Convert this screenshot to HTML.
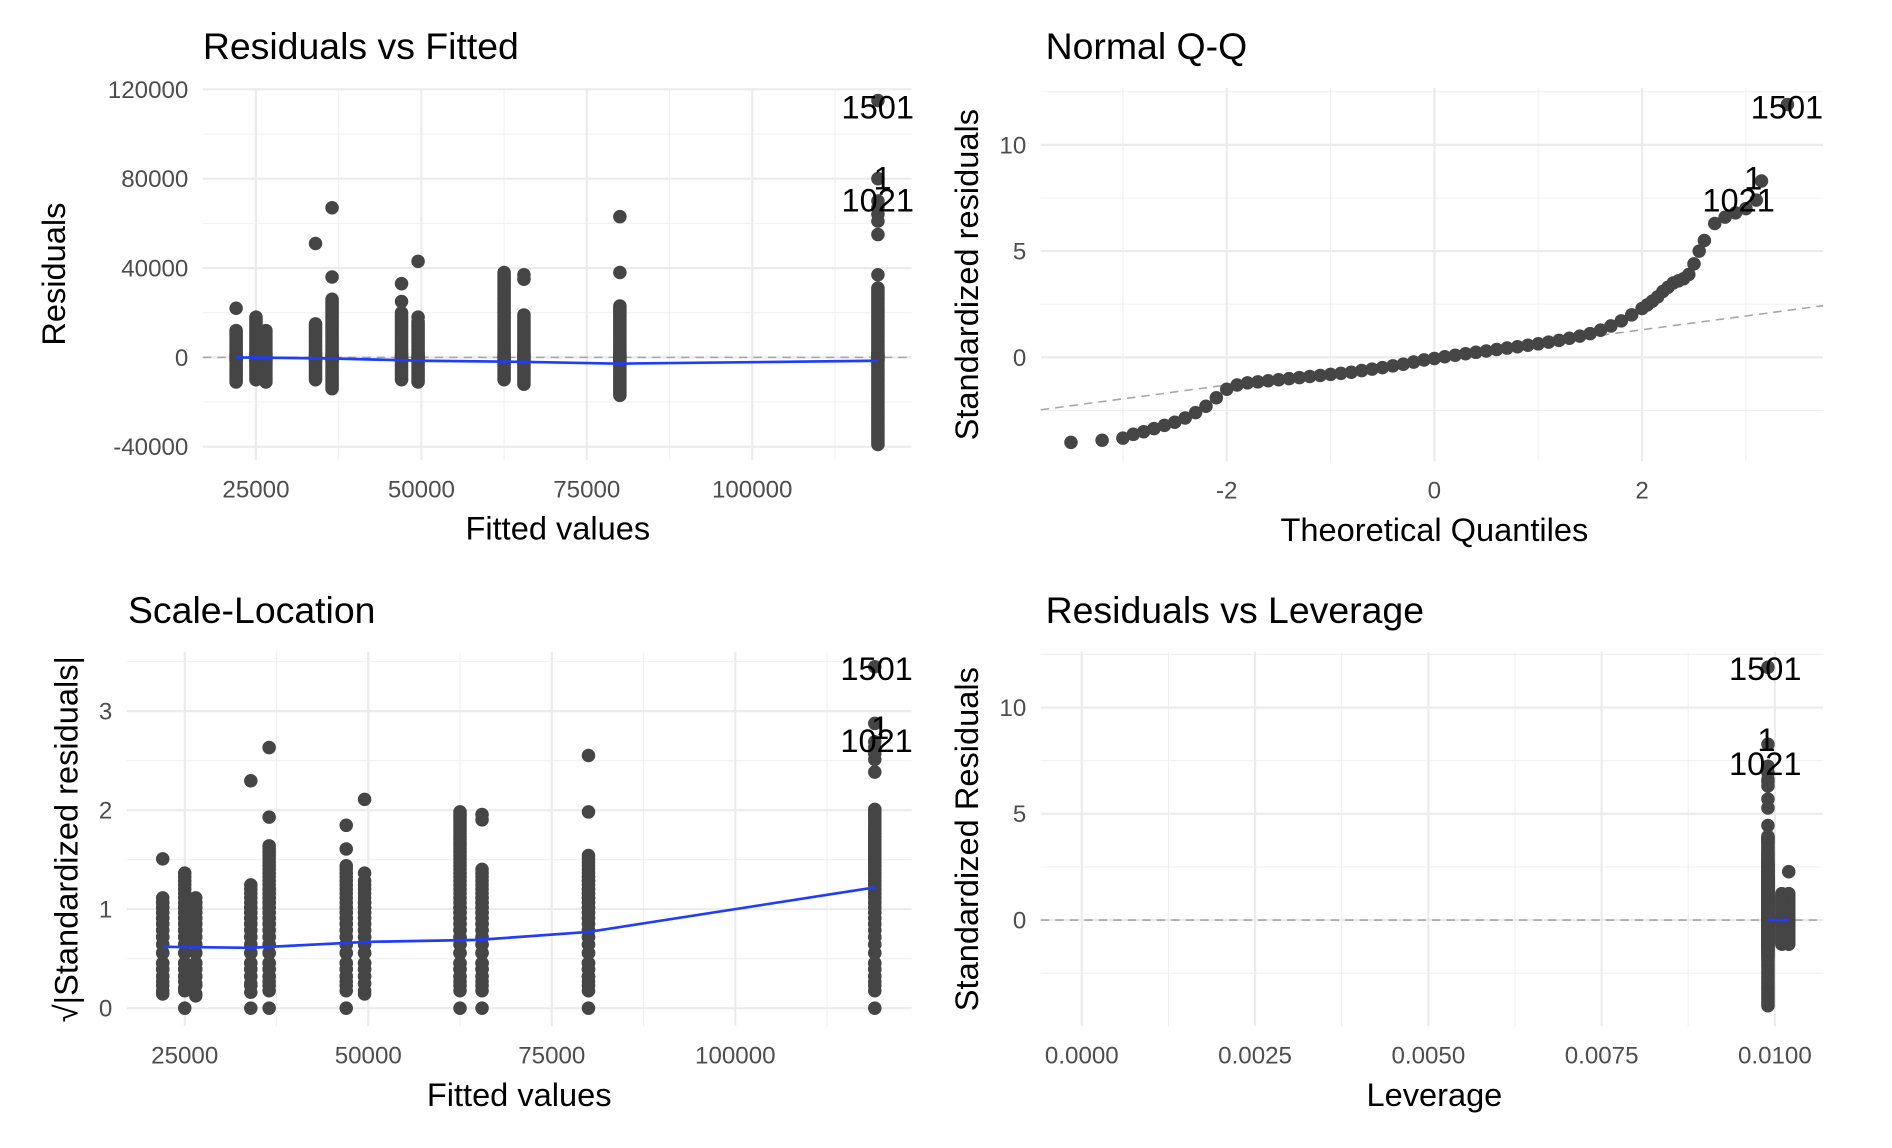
<!DOCTYPE html>
<html><head><meta charset="utf-8"><style>
html,body{margin:0;padding:0;background:#fff;}
svg{display:block;font-family:"Liberation Sans",sans-serif;}
</style></head><body>
<svg id="chart" width="1892" height="1148" viewBox="0 0 1567 950.8" preserveAspectRatio="none" xmlns="http://www.w3.org/2000/svg"></svg>
<script>
// ---- data ----
const fittedGroups = [22000, 25000, 26500, 34000, 36500, 47000, 49500, 62500, 65500, 80000, 119000];
const residualGroups = [
 [-11000,-10000,-9000,-8000,-7000,-6000,-5000,-4000,-3000,-2000,-1500,-1000,-500,-200,300,700,1000,1500,2000,3000,4000,5000,6000,7000,8000,9000,10000,11000,12000,22000],
 [-10000,-9000,-8000,-7000,-6000,-5000,-4000,-3000,-2000,-1500,-1000,-400,0,300,700,1000,1500,2000,3000,4000,5000,6000,7000,8000,9000,10000,11000,12000,13000,14000,15000,16000,17000,18000],
 [-11000,-10000,-9000,-8000,-7000,-6000,-5000,-4000,-3000,-2000,-1500,-1000,-600,-150,200,500,1000,1500,2000,3000,4000,5000,6000,7000,8000,9000,10000,11000,12000],
 [-10000,-9000,-8000,-7000,-6000,-5000,-4000,-3000,-2000,-1500,-1000,-500,0,250,600,1000,1500,2000,3000,4000,5000,6000,7000,8000,9000,10000,11000,12000,13000,14000,15000,51000],
 [-14000,-13000,-12000,-11000,-10000,-9000,-8000,-7000,-6000,-5000,-4000,-3000,-2000,-1500,-1000,-500,0,300,700,1000,1500,2000,3000,4000,5000,6000,7000,8000,9000,10000,11000,12000,13000,14000,15000,16000,17000,18000,19000,20000,21000,22000,23000,24000,25000,26000,36000,67000],
 [-10000,-9000,-8000,-7000,-6000,-5000,-4000,-3000,-2000,-1500,-1000,-500,0,300,700,1000,1500,2000,3000,4000,5000,6000,7000,8000,9000,10000,11000,12000,13000,14000,15000,16000,17000,18000,19000,20000,25000,33000],
 [-11000,-10000,-9000,-8000,-7000,-6000,-5000,-4000,-3000,-2000,-1500,-1000,-600,-200,300,600,1000,1500,2000,3000,4000,5000,6000,7000,8000,9000,10000,11000,12000,13000,14000,15000,16000,18000,43000],
 [-10000,-9000,-8000,-7000,-6000,-5000,-4000,-3000,-2000,-1500,-1000,-500,0,300,700,1000,1500,2000,3000,4000,5000,6000,7000,8000,9000,10000,11000,12000,13000,14000,15000,16000,17000,18000,19000,20000,21000,22000,23000,24000,25000,26000,27000,28000,29000,30000,31000,32000,33000,34000,35000,36000,37000,38000],
 [-12000,-11000,-10000,-9000,-8000,-7000,-6000,-5000,-4000,-3000,-2000,-1500,-1000,-500,0,300,700,1000,1500,2000,3000,4000,5000,6000,7000,8000,9000,10000,11000,12000,13000,14000,15000,16000,17000,18000,19000,35000,37000],
 [-17000,-16000,-15000,-14000,-13000,-12000,-11000,-10000,-9000,-8000,-7000,-6000,-5000,-4000,-3000,-2000,-1500,-1000,-500,0,300,700,1000,1500,2000,3000,4000,5000,6000,7000,8000,9000,10000,11000,12000,13000,14000,15000,16000,17000,18000,19000,20000,21000,22000,23000,38000,63000],
 [-39000,-38000,-37000,-36000,-35000,-34000,-33000,-32000,-31000,-30000,-29000,-28000,-27000,-26000,-25000,-24000,-23000,-22000,-21000,-20000,-19000,-18000,-17000,-16000,-15000,-14000,-13000,-12000,-11000,-10000,-9000,-8000,-7000,-6000,-5000,-4000,-3000,-2000,-1500,-1000,-500,0,300,700,1000,1500,2000,3000,4000,5000,6000,7000,8000,9000,10000,11000,12000,13000,14000,15000,16000,17000,18000,19000,20000,21000,22000,23000,24000,25000,26000,27000,28000,29000,30000,31000,37000,55000,61000,64000,67000,70000,80000,115000]
];
const leverageGroups = [0.0102, 0.0099, 0.0101, 0.0099, 0.0099, 0.0099, 0.0099, 0.0099, 0.0099, 0.0099, 0.0099];
const residualSD = 9670;
const smoothFitted = [22000, 36500, 50000, 65000, 80000, 119000];
const smoothResid = [0, -500, -1500, -2000, -2800, -1500];
const scaleSmoothFitted = [22000, 34000, 50000, 65000, 80000, 119000];
const scaleSmoothVals = [0.62, 0.61, 0.67, 0.69, 0.77, 1.22];
const qqTheoretical = [
 -3.5,-3.2,-3.0,-2.9,-2.8,-2.7,-2.6,-2.5,-2.4,-2.3,-2.2,-2.1,-2.0,-1.9,-1.8,
 -1.7,-1.6,-1.5,-1.4,-1.3,-1.2,-1.1,-1.0,-0.9,-0.8,-0.7,-0.6,-0.5,-0.4,-0.3,-0.2,-0.1,0,0.1,0.2,0.3,0.4,0.5,0.6,0.7,0.8,0.9,1.0,1.1,1.2,1.3,1.4,1.5,1.6,1.7,1.8,1.9,
 2.0,2.05,2.1,2.15,2.2,2.25,2.3,2.35,2.4,2.45,2.5,2.55,2.6,2.7,2.8,2.9,3.0,3.1,3.15,3.4];
const qqSample = [
 -4.0,-3.9,-3.8,-3.62,-3.5,-3.35,-3.2,-3.05,-2.85,-2.6,-2.3,-1.9,-1.5,-1.3,-1.2,
 -1.15,-1.1,-1.05,-1.0,-0.95,-0.9,-0.85,-0.8,-0.75,-0.7,-0.62,-0.55,-0.48,-0.4,-0.32,-0.22,-0.12,-0.05,0.03,0.1,0.17,0.24,0.3,0.37,0.44,0.5,0.57,0.64,0.72,0.8,0.9,1.0,1.12,1.28,1.48,1.72,2.0,
 2.3,2.47,2.65,2.85,3.1,3.3,3.5,3.6,3.7,3.9,4.4,5.0,5.5,6.3,6.6,6.8,7.0,7.4,8.3,11.9];
const qqLineSlope = 0.65;
const fittedTicks = [25000, 50000, 75000, 100000];
const residTicks = [-40000, 0, 40000, 80000, 120000];
const stdTicks = [0, 5, 10];
const qTicks = [-2, 0, 2];
const sqrtTicks = [0, 1, 2, 3];
const levTicks = [0, 0.0025, 0.005, 0.0075, 0.01];
const levTickLabels = ["0.0000","0.0025","0.0050","0.0075","0.0100"];

// ---- helpers ----
const svg = document.getElementById('chart');
const NS = 'http://www.w3.org/2000/svg';
function mk(tag, attrs, parent){ const e=document.createElementNS(NS,tag); for(const k in attrs) e.setAttribute(k,attrs[k]); (parent||svg).appendChild(e); return e; }
function txt(s, attrs, parent){ const e=mk('text',attrs,parent); e.textContent=s; return e; }

function panel(cfg){
  const g = mk('g',{});
  
  
  const {x0,x1,y0,y1,sx,sy} = cfg;
  cfg.yMinor.forEach(v=>{ const y=sy(v); if(y>=y0&&y<=y1) mk('line',{x1:x0,x2:x1,y1:y,y2:y,stroke:'#f0f0f0','stroke-width':0.9},g); });
  cfg.xMinor.forEach(v=>{ const x=sx(v); if(x>=x0&&x<=x1) mk('line',{x1:x,x2:x,y1:y0,y2:y1,stroke:'#f0f0f0','stroke-width':0.9},g); });
  cfg.yTicks.forEach((v,i)=>{ const y=sy(v);
    const l=mk('line',{x1:x0,x2:x1,y1:y,y2:y,stroke:'#ebebeb','stroke-width':1.8},g);
     
    const t=txt(cfg.yLabels?cfg.yLabels[i]:String(v),{x:x0-12,y:y+7,'text-anchor':'end','font-size':20,fill:'#4d4d4d'},g);
      });
  cfg.xTicks.forEach((v,i)=>{ const x=sx(v);
    const l=mk('line',{x1:x,x2:x,y1:y0,y2:y1,stroke:'#ebebeb','stroke-width':1.8},g);
     
    const t=txt(cfg.xLabels?cfg.xLabels[i]:String(v),{x:x,y:y1+31,'text-anchor':'middle','font-size':20,fill:'#4d4d4d'},g);
      });
  const ti=txt(cfg.title,{x:cfg.titleX,y:y0-24,'font-size':31,fill:'#000'},g);
   
  const xt=txt(cfg.xTitle,{x:(cfg.xTitleC),y:y1+66,'text-anchor':'middle','font-size':27,fill:'#000'},g);
   
  const yt=txt(cfg.yTitle,{x:0,y:0,'text-anchor':'middle','font-size':27,fill:'#000',transform:`translate(${cfg.yTitleX},${(y0+y1)/2}) rotate(-90)`},g);
   
  return g;
}
function dot(g,x,y){ const c=mk('circle',{cx:x,cy:y,r:5.6,fill:'#454545'},g);
    }
function label(g,s,x,y){ const t=txt(s,{x:x,y:y,'text-anchor':'middle','font-size':27,fill:'#000'},g);
    }
function dashed(g,x1,y1,x2,y2){ const l=mk('line',{x1,y1,x2,y2,stroke:'#a6a6a6','stroke-width':1.3,'stroke-dasharray':'7,5'},g);
    }
function smooth(g,xs,ys){ const p=mk('polyline',{points:xs.map((x,i)=>x+','+ys[i]).join(' '),fill:'none',stroke:'#1f3cff','stroke-width':2.2},g);
    }

// ---- Panel 1: Residuals vs Fitted ----
{
 const sx=v=>212+(v-25000)*137/25000, sy=v=>296-v*74/40000;
 const g=panel({name:'residuals-vs-fitted-panel',x0:168,x1:755,y0:73,y1:381,sx,sy,
  yMinor:[-20000,20000,60000,100000],xMinor:[12500,37500,62500,87500,112500],
  yTicks:residTicks,xTicks:fittedTicks,title:'Residuals vs Fitted',titleX:168,
  xTitle:'Fitted values',xTitleC:462,yTitle:'Residuals',yTitleX:54});
 dashed(g,168,sy(0),755,sy(0));
 fittedGroups.forEach((f,i)=>residualGroups[i].forEach(r=>dot(g,sx(f),sy(r))));
 smooth(g,smoothFitted.map(sx),smoothResid.map(sy));
 label(g,'1501',727,98); label(g,'1',731,157); label(g,'1021',727,175);
}
// ---- Panel 2: Normal Q-Q ----
{
 const sx=q=>1188+q*86, sy=v=>296-v*17.6;
 const g=panel({name:'normal-qq-panel',x0:862,x1:1510,y0:73,y1:382,sx,sy,
  yMinor:[-2.5,2.5,7.5,12.5],xMinor:[-3,-1,1,3],
  yTicks:stdTicks,xTicks:qTicks,title:'Normal Q-Q',titleX:866,
  xTitle:'Theoretical Quantiles',xTitleC:1188,yTitle:'Standardized residuals',yTitleX:810});
 dashed(g,862,sy((-326/86)*qqLineSlope),1510,sy((322/86)*qqLineSlope));
 qqTheoretical.forEach((q,i)=>dot(g,sx(q),sy(qqSample[i])));
 label(g,'1501',1480,98); label(g,'1',1452,157); label(g,'1021',1440,175);
}
// ---- Panel 3: Scale-Location ----
{
 const sx=v=>153+(v-25000)*152/25000, sy=v=>835-v*82;
 const g=panel({name:'scale-location-panel',x0:105,x1:755,y0:540,y1:850,sx,sy,
  yMinor:[0.5,1.5,2.5,3.5],xMinor:[37500,62500,87500,112500],
  yTicks:sqrtTicks,xTicks:fittedTicks,title:'Scale-Location',titleX:106,
  xTitle:'Fitted values',xTitleC:430,yTitle:'√|Standardized residuals|',yTitleX:64});
 fittedGroups.forEach((f,i)=>residualGroups[i].forEach(r=>dot(g,sx(f),sy(Math.sqrt(Math.abs(r/residualSD))))));
 smooth(g,scaleSmoothFitted.map(sx),scaleSmoothVals.map(sy));
 label(g,'1501',726,563); label(g,'1',729,612); label(g,'1021',726,623);
}
// ---- Panel 4: Residuals vs Leverage ----
{
 const sx=l=>896+l*57400, sy=v=>762-v*17.6;
 const g=panel({name:'residuals-vs-leverage-panel',x0:862,x1:1510,y0:540,y1:850,sx,sy,
  yMinor:[-2.5,2.5,7.5,12.5],xMinor:[0.00125,0.00375,0.00625,0.00875],
  yTicks:stdTicks,xTicks:levTicks,xLabels:levTickLabels,title:'Residuals vs Leverage',titleX:866,
  xTitle:'Leverage',xTitleC:1188,yTitle:'Standardized Residuals',yTitleX:810});
 dashed(g,862,sy(0),1510,sy(0));
 fittedGroups.forEach((f,i)=>residualGroups[i].forEach(r=>dot(g,sx(leverageGroups[i]),sy(r/residualSD))));
 smooth(g,[sx(0.0099),sx(0.0102)],[sy(0),sy(0)]);
 label(g,'1501',1462,563); label(g,'1',1463,622); label(g,'1021',1462,642);
}
</script>
</body></html>
